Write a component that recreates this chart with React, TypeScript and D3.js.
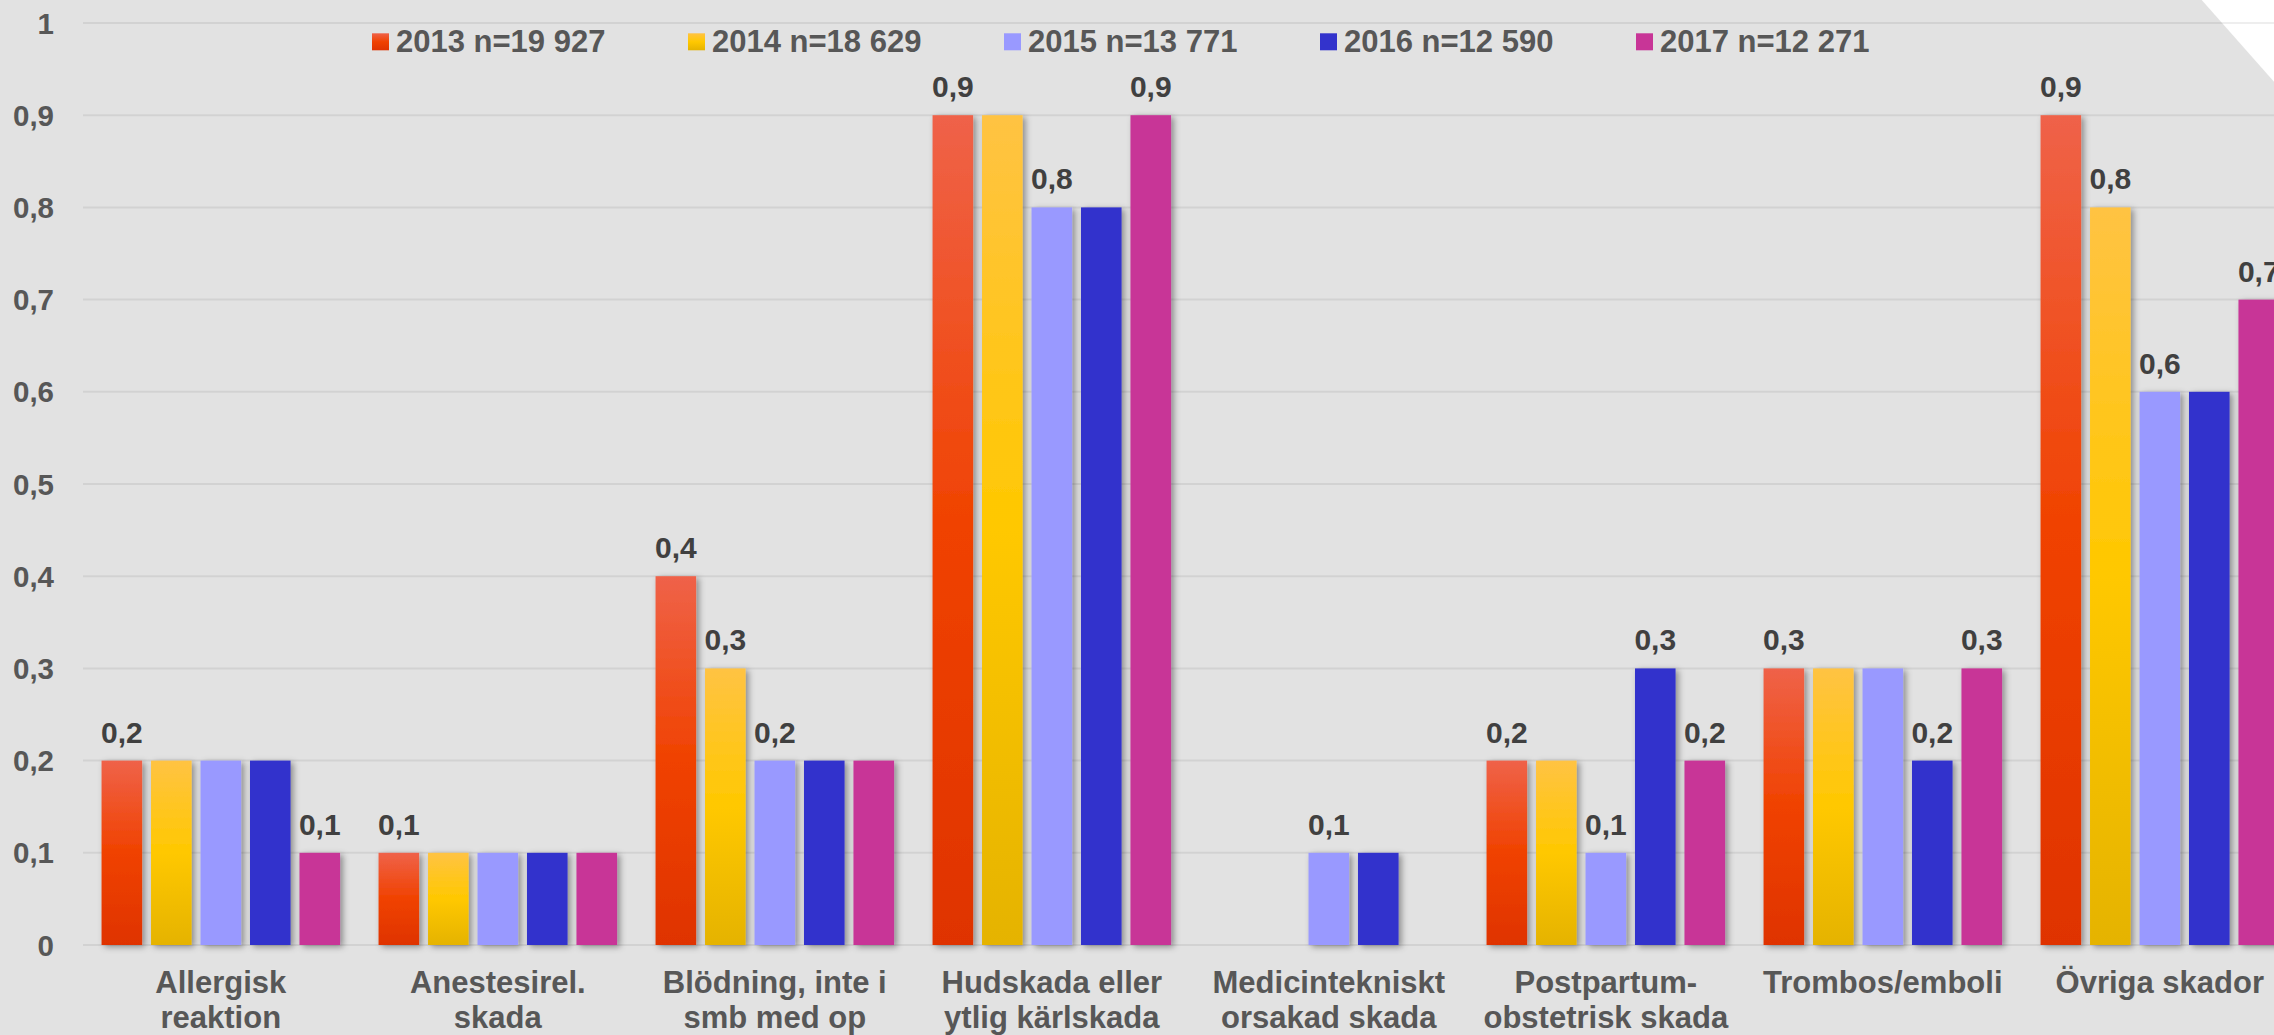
import { useEffect, useRef } from "react";
import * as d3 from "d3";

const W = 2274;
const H = 1035;
const FONT = '"Liberation Sans", Arial, sans-serif';
const AXIS_TEXT = "#575757";
const LABEL_TEXT = "#404040";
const BG = "#e2e2e2";

const CATEGORIES = [
  ["Allergisk", "reaktion"],
  ["Anestesirel.", "skada"],
  ["Blödning, inte i", "smb med op"],
  ["Hudskada eller", "ytlig kärlskada"],
  ["Medicintekniskt", "orsakad skada"],
  ["Postpartum-", "obstetrisk skada"],
  ["Trombos/emboli"],
  ["Övriga skador"],
];

const SERIES = ["2013 n=19 927", "2014 n=18 629", "2015 n=13 771", "2016 n=12 590", "2017 n=12 271"];

// null = no bar drawn
const V2013 = [0.2, 0.1, 0.4, 0.9, null, 0.2, 0.3, 0.9];
const V2014 = [0.2, 0.1, 0.3, 0.9, null, 0.2, 0.3, 0.8];
const V2015 = [0.2, 0.1, 0.2, 0.8, 0.1, 0.1, 0.3, 0.6];
const V2016 = [0.2, 0.1, 0.2, 0.8, 0.1, 0.3, 0.2, 0.6];
const V2017 = [0.1, 0.1, 0.2, 0.9, null, 0.2, 0.3, 0.7];

const Y_TICKS = [0, 0.1, 0.2, 0.3, 0.4, 0.5, 0.6, 0.7, 0.8, 0.9, 1];

const FILLS = ["url(#grad-red)", "url(#grad-yellow)", "#9999ff", "#3333cc", "#c83597"];

const fmt = (v: number) => String(Math.round(v * 10) / 10).replace(".", ",");

export default function App() {
  const svgRef = useRef<SVGSVGElement>(null);

  useEffect(() => {
    const svg = d3.select(svgRef.current);
    svg.selectAll("*").remove();

    const values = [V2013, V2014, V2015, V2016, V2017];
    const catIdx = CATEGORIES.map((_, i) => i);

    const x0 = d3.scaleBand<number>().domain(catIdx).range([82.3, 82.3 + 8 * 277]).padding(0);
    const x1 = d3
      .scaleBand<number>()
      .domain(SERIES.map((_, i) => i))
      .range([19.25, 257.75])
      .paddingInner(0.18)
      .paddingOuter(0);
    const y = d3.scaleLinear().domain([0, 1]).range([945, 23]);

    const defs = svg.append("defs");
    const addGrad = (id: string, stops: [number, string][]) => {
      const g = defs
        .append("linearGradient")
        .attr("id", id)
        .attr("x1", 0)
        .attr("y1", 0)
        .attr("x2", 0)
        .attr("y2", 1);
      stops.forEach(([o, c]) => g.append("stop").attr("offset", o).attr("stop-color", c));
    };
    addGrad("grad-red", [
      [0, "#ef6249"],
      [0.5, "#f04200"],
      [1, "#df3300"],
    ]);
    addGrad("grad-yellow", [
      [0, "#ffc343"],
      [0.5, "#ffc800"],
      [1, "#e5b300"],
    ]);
    const filter = defs
      .append("filter")
      .attr("id", "shadow")
      .attr("x", "-30%")
      .attr("y", "-10%")
      .attr("width", "160%")
      .attr("height", "120%");
    filter
      .append("feDropShadow")
      .attr("dx", 3)
      .attr("dy", 2)
      .attr("stdDeviation", 3)
      .attr("flood-color", "#000")
      .attr("flood-opacity", 0.38);

    svg.append("rect").attr("width", W).attr("height", H).attr("fill", BG);
    svg
      .append("polygon")
      .attr("points", `2201.7,0 ${W},81.7 ${W},0`)
      .attr("fill", "#ffffff");

    // gridlines
    svg
      .append("g")
      .selectAll("line")
      .data(Y_TICKS)
      .join("line")
      .attr("x1", 83)
      .attr("x2", W)
      .attr("y1", (d) => y(d))
      .attr("y2", (d) => y(d))
      .attr("stroke", "rgba(0,0,0,0.065)")
      .attr("stroke-width", 2);

    // y labels
    svg
      .append("g")
      .selectAll("text")
      .data(Y_TICKS)
      .join("text")
      .attr("x", 54)
      .attr("y", (d) => y(d) + 10.5)
      .attr("text-anchor", "end")
      .attr("font-family", FONT)
      .attr("font-weight", 700)
      .attr("font-size", 29.5)
      .attr("fill", AXIS_TEXT)
      .text((d) => fmt(d));

    // bars
    const groups = svg
      .append("g")
      .selectAll("g")
      .data(catIdx)
      .join("g")
      .attr("transform", (c) => `translate(${x0(c)},0)`);

    groups.each(function (c) {
      const g = d3.select(this);
      values.forEach((series, s) => {
        const v = series[c];
        if (v == null) return;
        g.append("rect")
          .attr("x", x1(s)!)
          .attr("width", x1.bandwidth())
          .attr("y", y(v))
          .attr("height", y(0) - y(v))
          .attr("fill", FILLS[s])
          .attr("filter", "url(#shadow)");
      });
    });

    // data labels: shown on the first bar and where the value changes
    groups.each(function (c) {
      const g = d3.select(this);
      let prev: number | null = null;
      values.forEach((series, s) => {
        const v = series[c];
        if (v != null && v !== prev) {
          g.append("text")
            .attr("x", x1(s)! + x1.bandwidth() / 2)
            .attr("y", y(v) - 18)
            .attr("text-anchor", "middle")
            .attr("font-family", FONT)
            .attr("font-weight", 700)
            .attr("font-size", 30)
            .attr("fill", LABEL_TEXT)
            .text(fmt(v));
        }
        prev = v;
      });
    });

    // category labels
    groups.each(function (c) {
      const g = d3.select(this);
      CATEGORIES[c].forEach((line, i) => {
        g.append("text")
          .attr("x", x0.bandwidth() / 2)
          .attr("y", 993 + i * 35)
          .attr("text-anchor", "middle")
          .attr("font-family", FONT)
          .attr("font-weight", 700)
          .attr("font-size", 31)
          .attr("fill", AXIS_TEXT)
          .text(line);
      });
    });

    // legend
    const legend = svg
      .append("g")
      .selectAll("g")
      .data(SERIES)
      .join("g")
      .attr("transform", (_, i) => `translate(${372 + i * 316},0)`);
    legend
      .append("rect")
      .attr("x", 0)
      .attr("y", 33.3)
      .attr("width", 17)
      .attr("height", 17)
      .attr("fill", (_, i) => FILLS[i]);
    legend
      .append("text")
      .attr("x", 24)
      .attr("y", 51.5)
      .attr("font-family", FONT)
      .attr("font-weight", 700)
      .attr("font-size", 31)
      .attr("fill", AXIS_TEXT)
      .text((d) => d);
  }, []);

  return (
    <svg
      ref={svgRef}
      width={W}
      height={H}
      style={{ position: "absolute", left: 0, top: 0, display: "block" }}
    />
  );
}
